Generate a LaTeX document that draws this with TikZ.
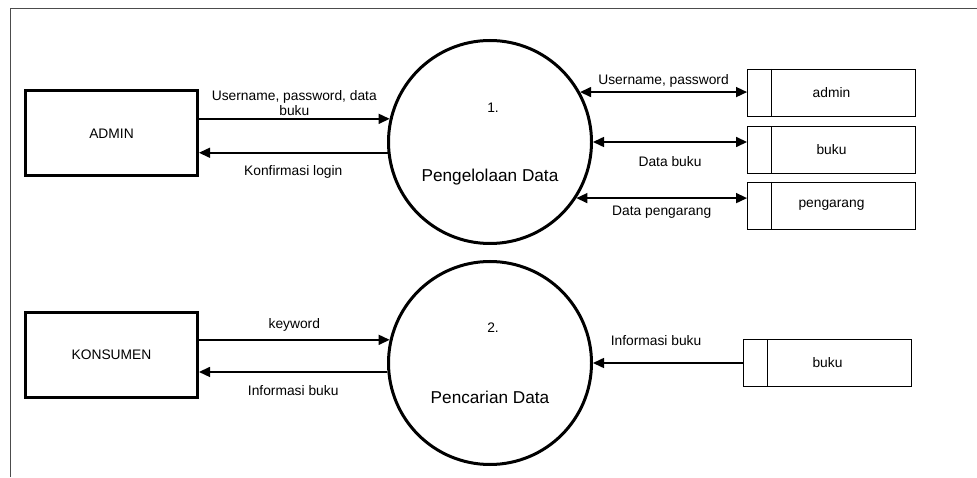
\documentclass[tikz,border=0pt]{standalone}
\usepackage{fontspec}
\setsansfont{Liberation Sans}
\usetikzlibrary{arrows.meta,positioning}

\begin{document}
\begin{tikzpicture}[
        x=1pt, y=1pt,
        font=\sffamily\fontsize{13.8}{15}\selectfont,
        entidade/.style={
            draw, line width=3pt,
            minimum width=172pt, minimum height=85pt, inner sep=0pt
        },
        processo/.style={
            draw, circle, line width=3pt,
            minimum size=203pt, inner sep=0pt
        },
        deposito/.style={
            draw, line width=0.9pt,
            minimum width=168pt, minimum height=47pt, inner sep=0pt,
            path picture={
                \draw[line width=0.9pt]
                    ([xshift=24pt]path picture bounding box.north west) --
                    ([xshift=24pt]path picture bounding box.south west);
            }
        },
        ponta/.tip={Triangle[length=11pt, width=10pt]},
        fluxo/.style={line width=1.5pt, -ponta},
        fluxoduplo/.style={line width=1.5pt, ponta-ponta},
        rotulo/.style={inner sep=2pt, align=center},
        grande/.style={font=\sffamily\fontsize{17.2}{19}\selectfont}
    ]

    \useasboundingbox (0,0) rectangle (977,477);

    % Moldura
    \draw[black!70, line width=0.9pt] (10,0) -- (10,469) -- (977,469);

    % Entidades e processos
    \node[entidade] (admin) at (111.5,343.5) {ADMIN};
    \node[entidade] (konsumen) at (111.5,122) {KONSUMEN};

    \node[processo] (p1) at (490,335) {};
    \node[processo] (p2) at (490,114) {};

    \node (p1no) at ([xshift=3pt, yshift=34pt]p1.center) {1.};
    \node[grande] (p1nama) at ([yshift=-35pt]p1.center) {Pengelolaan Data};
    \node (p2no) at ([xshift=3pt, yshift=35pt]p2.center) {2.};
    \node[grande] (p2nama) at ([yshift=-34pt]p2.center) {Pencarian Data};

    % Depositos de dados
    \node[deposito] (dadmin) at (831.5,384.5) {admin};
    \node[deposito] (dbuku) at (831.5,327) {buku};
    \node[deposito] (dpengarang) at (831.5,271.5) {pengarang};
    \node[deposito] (dbuku2) at (827.5,114) {buku};

    % Fluxos do processo 1
    \draw[fluxo] (admin.east |- p1.167) --
        node[above, rotulo] {Username, password, data\\buku} (p1.167);
    \draw[fluxo] (p1.186) --
        node[below, rotulo, yshift=-9.5pt] {Konfirmasi login} (admin.east |- p1.186);

    \draw[fluxoduplo] (p1.29) --
        node[above, rotulo, yshift=2pt] {Username, password} (p1.29 -| dadmin.west);
    \draw[fluxoduplo] (p1.east) --
        node[below, rotulo, yshift=-12pt] {Data buku} (p1.east -| dbuku.west);
    \draw[fluxoduplo] (p1.327) --
        node[below, rotulo, yshift=-5pt] {Data pengarang} (p1.327 -| dpengarang.west);

    % Fluxos do processo 2
    \draw[fluxo] (konsumen.east |- p2.167) --
        node[above, rotulo, yshift=6pt] {keyword} (p2.167);
    \draw[fluxo] (p2.185) --
        node[below, rotulo, yshift=-10.5pt] {Informasi buku} (konsumen.east |- p2.185);
    \draw[fluxo] (dbuku2.west) --
        node[above, pos=0.58, rotulo, yshift=15pt] {Informasi buku} (p2.east);

\end{tikzpicture}
\end{document}
